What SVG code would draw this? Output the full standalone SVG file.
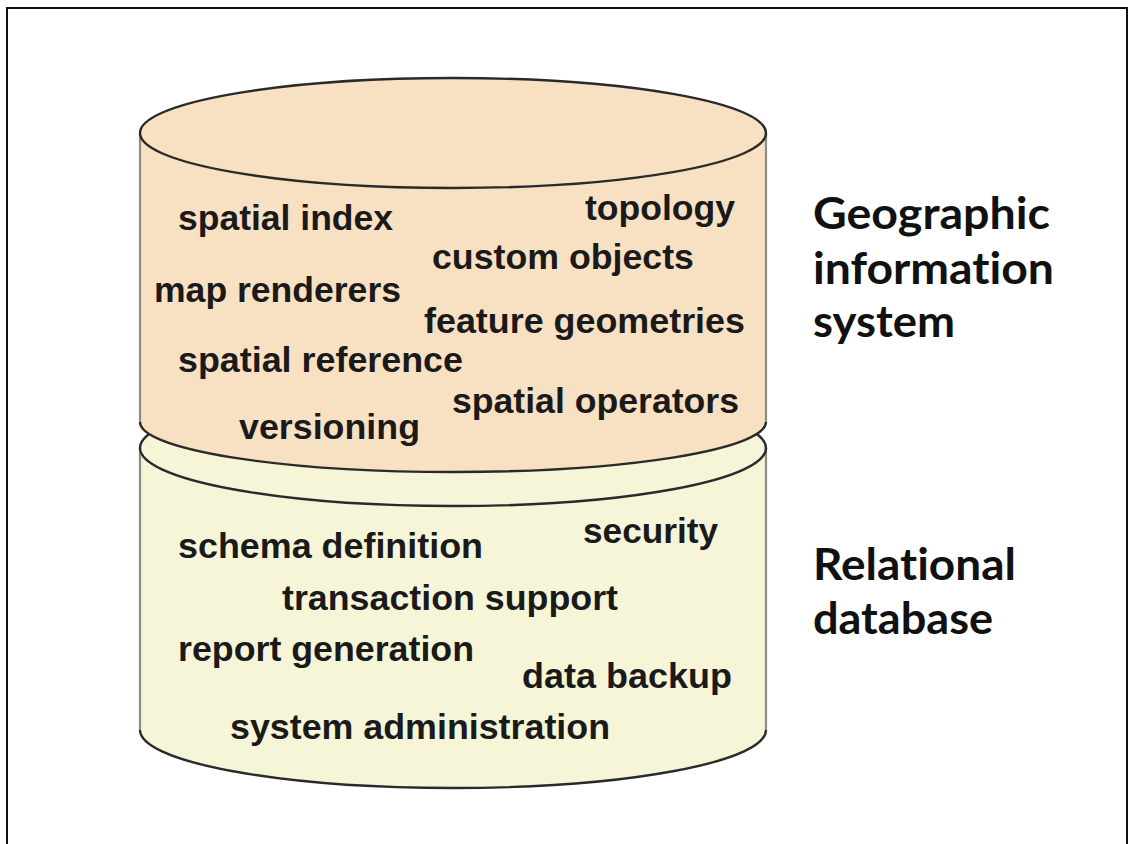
<svg xmlns="http://www.w3.org/2000/svg" width="1129" height="844" viewBox="0 0 1129 844">
<style>
.frame{fill:#ffffff;stroke:#111;stroke-width:2}
.gisfill{fill:#F8E0C3}
.rdbfill{fill:#F6F5D8}
.side{fill:none;stroke:#8c8c84;stroke-width:2.2}
.rim{fill:none;stroke:#2a2a2a;stroke-width:2.4}
.t{font-family:"Liberation Sans",Arial,sans-serif;font-weight:bold;font-size:35.5px;fill:#1a1a1a}
.lab{font-family:Lato,"Open Sans",sans-serif;font-weight:bold;font-size:43px;fill:#111;font-variant-ligatures:none}
</style>
<rect class="frame" x="7" y="8" width="1120" height="860"/>
<g id="rdb">
  <path class="rdbfill" d="M140,448 L140,730 A313,58 0 0 0 766,730 L766,448 Z"/>
  <path class="side" d="M140,448 L140,730 M766,448 L766,730"/>
  <path class="rim" d="M140,730 A313,58 0 0 0 766,730"/>
  <ellipse class="rdbfill" cx="453" cy="448" rx="313" ry="58"/>
  <ellipse class="rim" cx="453" cy="448" rx="313" ry="58"/>
</g>
<g id="gis">
  <path class="gisfill" d="M140,133 L140,422 A313,50 0 0 0 766,422 L766,133 Z"/>
  <path class="side" d="M140,133 L140,422 M766,133 L766,422"/>
  <path class="rim" d="M140,422 A313,50 0 0 0 766,422"/>
  <ellipse class="gisfill" cx="453" cy="133" rx="313" ry="55"/>
  <ellipse class="rim" cx="453" cy="133" rx="313" ry="55"/>
</g>
<g id="gis-items">
  <text class="t" x="178" y="230" textLength="215" lengthAdjust="spacingAndGlyphs">spatial index</text>
  <text class="t" x="585" y="220" textLength="150" lengthAdjust="spacingAndGlyphs">topology</text>
  <text class="t" x="432" y="269" textLength="262" lengthAdjust="spacingAndGlyphs">custom objects</text>
  <text class="t" x="154" y="302" textLength="247" lengthAdjust="spacingAndGlyphs">map renderers</text>
  <text class="t" x="424" y="333" textLength="321" lengthAdjust="spacingAndGlyphs">feature geometries</text>
  <text class="t" x="178" y="372" textLength="285" lengthAdjust="spacingAndGlyphs">spatial reference</text>
  <text class="t" x="452" y="413" textLength="287" lengthAdjust="spacingAndGlyphs">spatial operators</text>
  <text class="t" x="239" y="439" textLength="181" lengthAdjust="spacingAndGlyphs">versioning</text>
</g>
<g id="rdb-items">
  <text class="t" x="178" y="558" textLength="305" lengthAdjust="spacingAndGlyphs">schema definition</text>
  <text class="t" x="583" y="543" textLength="135" lengthAdjust="spacingAndGlyphs">security</text>
  <text class="t" x="282" y="610" textLength="336" lengthAdjust="spacingAndGlyphs">transaction support</text>
  <text class="t" x="178" y="661" textLength="296" lengthAdjust="spacingAndGlyphs">report generation</text>
  <text class="t" x="522" y="688" textLength="210" lengthAdjust="spacingAndGlyphs">data backup</text>
  <text class="t" x="230" y="739" textLength="380" lengthAdjust="spacingAndGlyphs">system administration</text>
</g>
<g id="gis-label">
  <text class="lab" x="813" y="229" textLength="237" lengthAdjust="spacingAndGlyphs">Geographic</text>
  <text class="lab" x="813" y="284" textLength="241" lengthAdjust="spacingAndGlyphs">information</text>
  <text class="lab" x="813" y="337" textLength="142" lengthAdjust="spacingAndGlyphs">system</text>
</g>
<g id="rdb-label">
  <text class="lab" x="813" y="580" textLength="203" lengthAdjust="spacingAndGlyphs">Relational</text>
  <text class="lab" x="813" y="634" textLength="180" lengthAdjust="spacingAndGlyphs">database</text>
</g>
<g id="connectors"/>
</svg>
